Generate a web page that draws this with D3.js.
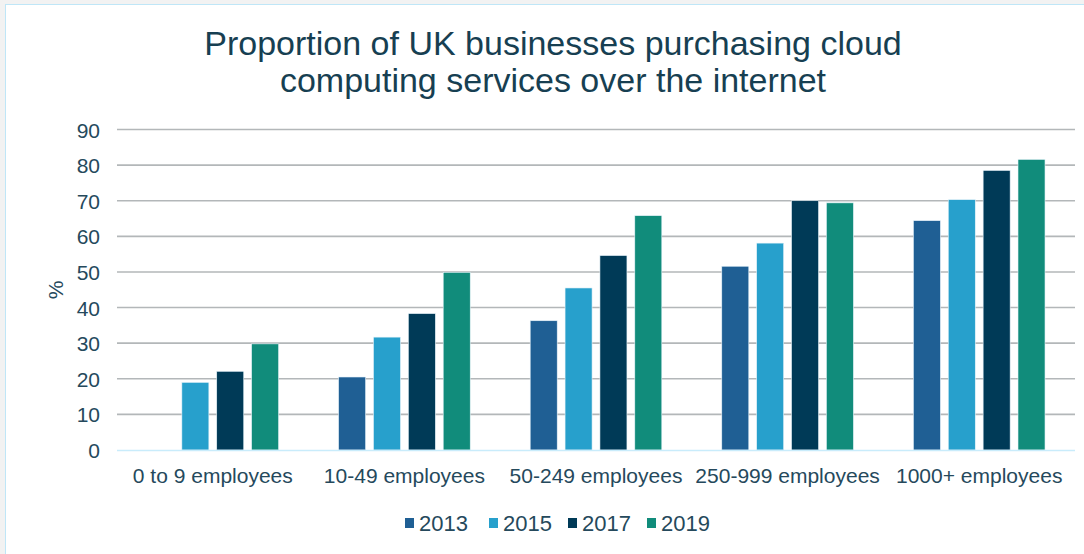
<!DOCTYPE html>
<html><head><meta charset="utf-8">
<script src="https://cdn.jsdelivr.net/npm/d3@7"></script>
<style>
html,body{margin:0;padding:0;background:#f2f2f2;}
svg{display:block;font-family:"Liberation Sans",Arial,sans-serif;}
</style></head><body>
<svg id="c" width="1084" height="554"></svg>
<script>
const categories = ["0 to 9 employees","10-49 employees","50-249 employees","250-999 employees","1000+ employees"];
const years = ["2013","2015","2017","2019"];
const v2013 = [null, 20.5, 36.3, 51.6, 64.4];
const v2015 = [19.0, 31.7, 45.5, 58.1, 70.3];
const v2017 = [22.1, 38.3, 54.6, 70.0, 78.5];
const v2019 = [29.8, 49.9, 65.8, 69.4, 81.6];
const colors = ["#1f5f94","#27a0cc","#003a57","#118c7b"];
const yTicks = [0,10,20,30,40,50,60,70,80,90];
const titleLines = ["Proportion of UK businesses purchasing cloud","computing services over the  internet"];

const series = [v2013, v2015, v2017, v2019];
const svg = d3.select("#c");
const textCol = "#25495c";

// chart area background
svg.append("rect").attr("x",5.5).attr("y",4.5).attr("width",1090).attr("height",560)
  .attr("fill","#fff").attr("stroke","#bfe6f7").attr("stroke-width",1);

const pL = 117, pR = 1075, pT = 129.5, pB = 450;
const x = d3.scaleBand().domain(categories).range([pL,pR]).paddingInner(0).paddingOuter(0);
const y = d3.scaleLinear().domain([0,90]).range([pB,pT]);

// gridlines
svg.append("g").selectAll("line").data(yTicks.filter(d=>d>0)).join("line")
  .attr("x1",pL).attr("x2",pR).attr("y1",d=>y(d)).attr("y2",d=>y(d))
  .attr("stroke","#b3b7b9").attr("stroke-width",1.6);

// y axis labels
const yAxis = d3.axisLeft(y).tickValues(yTicks).tickSize(0).tickPadding(0);
const ya = svg.append("g").attr("transform",`translate(100,0)`).call(yAxis);
ya.select(".domain").remove();
ya.selectAll("text").attr("fill",textCol).style("font-size","21px").attr("dy","0.36em");

// % label
svg.append("text").attr("transform","translate(63,290) rotate(-90)").attr("text-anchor","middle")
  .attr("fill",textCol).style("font-size","21px").text("%");

// bars
const bw = x.bandwidth()*0.141, gap = x.bandwidth()*0.041;
const groupW = 4*bw + 3*gap;
const x1 = d3.scaleBand().domain(years).range([0,groupW]).paddingInner(gap/(bw+gap)).paddingOuter(0);
const gBars = svg.append("g");
series.forEach((s,si)=>{
  gBars.append("g").selectAll("rect").data(categories.map((c,i)=>({c,v:s[i]})).filter(d=>d.v!=null)).join("rect")
    .attr("x",d=>x(d.c)+(x.bandwidth()-groupW)/2+x1(years[si]))
    .attr("y",d=>y(d.v)).attr("width",x1.bandwidth()).attr("height",d=>y(0)-y(d.v))
    .attr("fill",colors[si]).attr("stroke","#e8f4fa").attr("stroke-width",0.6);
});

// baseline
svg.append("line").attr("x1",pL).attr("x2",pR).attr("y1",pB+0.5).attr("y2",pB+0.5)
  .attr("stroke","#c9ecfb").attr("stroke-width",1.6);

// x axis labels
const xAxis = d3.axisBottom(x).tickSize(0).tickPadding(0);
const xa = svg.append("g").attr("transform",`translate(0,${pB})`).call(xAxis);
xa.select(".domain").remove();
xa.selectAll("text").attr("fill",textCol).style("font-size","21px").attr("y",33).attr("dy","0");

// title
svg.append("g").selectAll("text").data(titleLines).join("text")
  .attr("x",553).attr("y",(d,i)=>55+i*37).attr("text-anchor","middle")
  .attr("fill","#173f52").style("font-size","34px").text(d=>d);

// legend
const lx = [405,489,568,647];
const lg = svg.append("g").selectAll("g").data(years).join("g").attr("transform",(d,i)=>`translate(${lx[i]},523)`);
lg.append("rect").attr("x",0).attr("y",-5).attr("width",9).attr("height",10).attr("fill",(d,i)=>colors[i]);
lg.append("text").attr("x",14).attr("y",8).attr("fill",textCol).style("font-size","22px").text(d=>d);
</script>
</body></html>
